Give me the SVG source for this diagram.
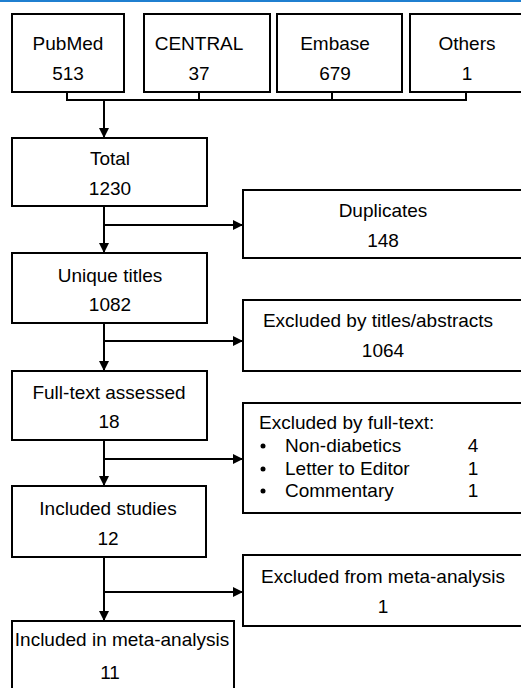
<svg xmlns="http://www.w3.org/2000/svg" width="521" height="688" viewBox="0 0 521 688">
<style>
.box{fill:#fff;stroke:#000;stroke-width:2}
.t{font-family:"Liberation Sans",Arial,sans-serif;font-size:19px;fill:#000;text-anchor:middle}
.l{text-anchor:start}
.c{fill:none;stroke:#000;stroke-width:2}
</style>
<defs>
<marker id="ah" markerWidth="10" markerHeight="10" refX="9" refY="5" orient="auto" markerUnits="userSpaceOnUse">
<path d="M0,0 L10,5 L0,10 Z" fill="#000"/>
</marker>
</defs>
<rect width="521" height="688" fill="#fff"/>
<rect x="0" y="0" width="521" height="2" fill="#1f7fd0"/>
<g id="connectors">
<path class="c" d="M67,92 V100 M199,92 V100 M332,92 V100 M466,92 V100 M66,100 H467"/>
<path class="c" d="M104,100 V137" marker-end="url(#ah)"/>
<path class="c" d="M104,206 V252" marker-end="url(#ah)"/>
<path class="c" d="M104,225 H242" marker-end="url(#ah)"/>
<path class="c" d="M104,323 V370" marker-end="url(#ah)"/>
<path class="c" d="M104,341 H242" marker-end="url(#ah)"/>
<path class="c" d="M104,440 V485" marker-end="url(#ah)"/>
<path class="c" d="M104,459 H242" marker-end="url(#ah)"/>
<path class="c" d="M104,557 V620" marker-end="url(#ah)"/>
<path class="c" d="M104,592 H242" marker-end="url(#ah)"/>
</g>
<g id="pubmed"><rect class="box" x="12" y="14" width="112" height="78"/><text class="t" x="68" y="50">PubMed</text><text class="t" x="68" y="80">513</text></g>
<g id="central"><rect class="box" x="144" y="14" width="126" height="78"/><text class="t" x="199" y="50">CENTRAL</text><text class="t" x="199" y="80">37</text></g>
<g id="embase"><rect class="box" x="277" y="14" width="125" height="78"/><text class="t" x="335" y="50">Embase</text><text class="t" x="335" y="80">679</text></g>
<g id="others"><rect class="box" x="410" y="14" width="115" height="78"/><text class="t" x="467" y="50">Others</text><text class="t" x="467" y="80">1</text></g>
<g id="total"><rect class="box" x="12" y="138" width="195" height="68"/><text class="t" x="110" y="165">Total</text><text class="t" x="110" y="195">1230</text></g>
<g id="duplicates"><rect class="box" x="243" y="190" width="282" height="68"/><text class="t" x="383" y="217">Duplicates</text><text class="t" x="383" y="247">148</text></g>
<g id="unique"><rect class="box" x="12" y="253" width="195" height="70"/><text class="t" x="110" y="282">Unique titles</text><text class="t" x="110" y="311">1082</text></g>
<g id="excl-titles"><rect class="box" x="243" y="300" width="282" height="71"/><text class="t" x="378" y="327">Excluded by titles/abstracts</text><text class="t" x="383" y="357">1064</text></g>
<g id="fulltext"><rect class="box" x="12" y="371" width="195" height="69"/><text class="t" x="109" y="399">Full-text assessed</text><text class="t" x="109" y="428">18</text></g>
<g id="excl-fulltext"><rect class="box" x="243" y="403" width="282" height="110"/>
<text class="t l" x="259" y="429">Excluded by full-text:</text>
<circle cx="263" cy="446" r="2.5"/><text class="t l" x="285" y="452">Non-diabetics</text><text class="t" x="473" y="452">4</text>
<circle cx="263" cy="469" r="2.5"/><text class="t l" x="285" y="475">Letter to Editor</text><text class="t" x="473" y="475">1</text>
<circle cx="263" cy="491" r="2.5"/><text class="t l" x="285" y="497">Commentary</text><text class="t" x="473" y="497">1</text>
</g>
<g id="included"><rect class="box" x="12" y="486" width="194" height="71"/><text class="t" x="108" y="515">Included studies</text><text class="t" x="108" y="545">12</text></g>
<g id="excl-meta"><rect class="box" x="243" y="555" width="282" height="71"/><text class="t" x="383" y="583">Excluded from meta-analysis</text><text class="t" x="383" y="613">1</text></g>
<g id="meta"><rect class="box" x="12" y="621" width="222" height="80"/><text class="t" x="122" y="646">Included in meta-analysis</text><text class="t" x="110" y="679">11</text></g>
</svg>
